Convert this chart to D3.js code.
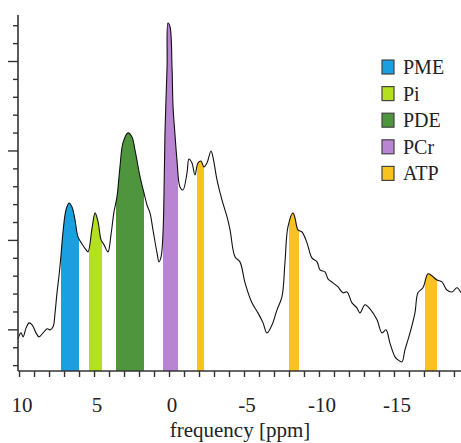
<!DOCTYPE html>
<html>
<head>
<meta charset="utf-8">
<script src="https://cdn.jsdelivr.net/npm/d3@7/dist/d3.min.js"></script>
<style>
html,body{margin:0;padding:0;background:#fff;}
svg{display:block;}
svg text{font-family:"Liberation Serif","DejaVu Serif",serif;}
</style>
</head>
<body>
<svg id="chart" width="461" height="443"></svg>
<script>
// spectrum: chemical shift (ppm) and intensity (arbitrary units)
const ppm = [10.07,9.87,9.73,9.53,9.33,9.13,8.87,8.67,8.40,8.13,7.93,7.73,7.60,7.47,7.33,7.20,7.07,6.87,6.67,6.47,6.27,6.07,5.80,5.53,5.40,5.13,4.93,4.73,4.53,4.33,4.07,3.87,3.67,3.47,3.27,3.07,2.73,2.47,2.27,1.93,1.67,1.47,1.27,1.07,0.80,0.67,0.53,0.40,0.33,0.27,0.13,0.07,-0.07,-0.20,-0.27,-0.40,-0.53,-0.73,-0.93,-1.20,-1.33,-1.53,-1.73,-1.93,-2.13,-2.33,-2.53,-2.80,-2.93,-3.20,-3.53,-3.87,-4.07,-4.40,-4.73,-5.07,-5.53,-5.93,-6.27,-6.53,-6.87,-7.20,-7.53,-7.73,-7.93,-8.27,-8.40,-8.60,-8.87,-9.20,-9.53,-9.87,-10.07,-10.40,-10.60,-10.93,-11.27,-11.60,-11.87,-12.20,-12.53,-12.73,-13.07,-13.40,-13.87,-14.20,-14.47,-14.73,-15.07,-15.27,-15.53,-15.73,-16.07,-16.40,-16.60,-16.93,-17.27,-17.53,-17.87,-18.20,-18.53,-18.87,-19.20,-19.47];
const intensity = [-0.50,-0.17,-0.39,0.11,0.39,0.28,-0.17,-0.39,-0.17,0.06,0.00,0.17,0.95,2.07,3.07,4.19,5.47,6.70,7.09,6.87,6.15,5.20,4.80,4.47,4.36,5.70,6.54,6.03,5.03,4.75,4.36,5.31,6.59,7.43,9.11,10.45,11.01,10.78,10.06,8.55,7.65,6.98,6.54,5.59,4.30,3.80,4.08,5.42,7.82,11.01,14.69,17.15,16.93,14.69,12.46,10.89,9.50,7.99,7.82,8.77,9.55,9.33,8.66,9.33,9.44,9.11,9.33,10.00,9.66,8.38,7.26,6.31,5.59,4.08,3.80,2.63,1.51,0.95,0.39,-0.17,0.28,1.12,1.84,3.74,5.75,6.54,6.26,5.59,5.47,4.86,4.02,3.80,3.35,3.24,2.85,2.63,2.40,2.07,2.12,1.51,1.23,0.95,1.40,1.17,0.56,-0.17,0.00,-0.73,-1.51,-1.68,-1.79,-1.12,-0.17,0.95,2.07,2.35,3.13,3.02,2.79,2.68,2.23,2.12,2.35,2.07];

// integration bands
const metabolites = ["PME","Pi","PDE","PCr","ATP"];
const colors = ["#1a9fe0","#b4e01f","#4f953e","#b985d2","#f8c31f"];
const bandStart = [7.2,5.33,3.53,0.4,-1.87,-8.0,-17.07];
const bandEnd   = [6.0,4.47,1.67,-0.6,-2.33,-8.67,-17.87];
const bandMetab = ["PME","Pi","PDE","PCr","ATP","ATP","ATP"];

const xTicks = d3.range(10,-20,-1);
const xLabels = [10,5,0,-5,-10,-15];
const yMajor = [0,5,10,15];
const yMinor = d3.range(-2,18,1);

const svg = d3.select("#chart");
const x = d3.scaleLinear().domain([10.07,-19.47]).range([18,461]);
const y = d3.scaleLinear().domain([-2.3,17.6]).range([371,15]);

const data = ppm.map((p,i)=>({p, v:intensity[i]}));
const curve = d3.curveCatmullRom.alpha(0.5);

const area = d3.area().x(d=>x(d.p)).y0(y(-2.3)).y1(d=>y(d.v)).curve(curve);
const line = d3.line().x(d=>x(d.p)).y(d=>y(d.v)).curve(curve);

const defs = svg.append("defs");
bandStart.forEach((s,i)=>{
  defs.append("clipPath").attr("id","band"+i)
    .append("rect")
    .attr("x", x(s)).attr("y", 0)
    .attr("width", x(bandEnd[i]) - x(s)).attr("height", y(-2.3));
  svg.append("path").datum(data)
    .attr("d", area)
    .attr("fill", colors[metabolites.indexOf(bandMetab[i])])
    .attr("clip-path","url(#band"+i+")");
});

svg.append("path").datum(data)
  .attr("d", line).attr("fill","none")
  .attr("stroke","#111").attr("stroke-width",1.1);

// y axis
const axisCol = "#333";
svg.append("line").attr("x1",18).attr("x2",18).attr("y1",y(17.6)).attr("y2",y(-2.3))
  .attr("stroke",axisCol).attr("stroke-width",1.6);
svg.selectAll(".ymin").data(yMinor).enter().append("line")
  .attr("x1",d=>yMajor.includes(d)?8:13).attr("x2",18)
  .attr("y1",d=>y(d)).attr("y2",d=>y(d))
  .attr("stroke",axisCol).attr("stroke-width",1.4);

// x axis
const xAxis = d3.axisBottom(x).tickValues(xTicks).tickSize(6).tickFormat("");
const gx = svg.append("g").attr("transform","translate(0,"+y(-2.3)+")").call(xAxis);
gx.select(".domain").attr("stroke",axisCol).attr("stroke-width",1.6).attr("d","M18,0H461");
gx.selectAll(".tick line").attr("stroke",axisCol).attr("stroke-width",1.4);

svg.selectAll(".xl").data(xLabels).enter().append("text")
  .attr("x",d=>x(d)+3).attr("y",412)
  .attr("text-anchor","middle").attr("font-size",21).attr("fill","#222")
  .text(d=>d<0?"-"+Math.abs(d):d);

svg.append("text").attr("x",240).attr("y",437).attr("text-anchor","middle")
  .attr("font-size",21).attr("fill","#222").text("frequency [ppm]");

// legend
const lg = svg.append("g");
metabolites.forEach((m,i)=>{
  const yy = 60 + i*26.6;
  lg.append("rect").attr("x",382).attr("y",yy).attr("width",12).attr("height",14)
    .attr("fill",colors[i]).attr("stroke","#444").attr("stroke-width",1.2);
  lg.append("text").attr("x",403).attr("y",yy+14).attr("font-size",20).attr("fill","#222").text(m);
});
</script>
</body>
</html>
